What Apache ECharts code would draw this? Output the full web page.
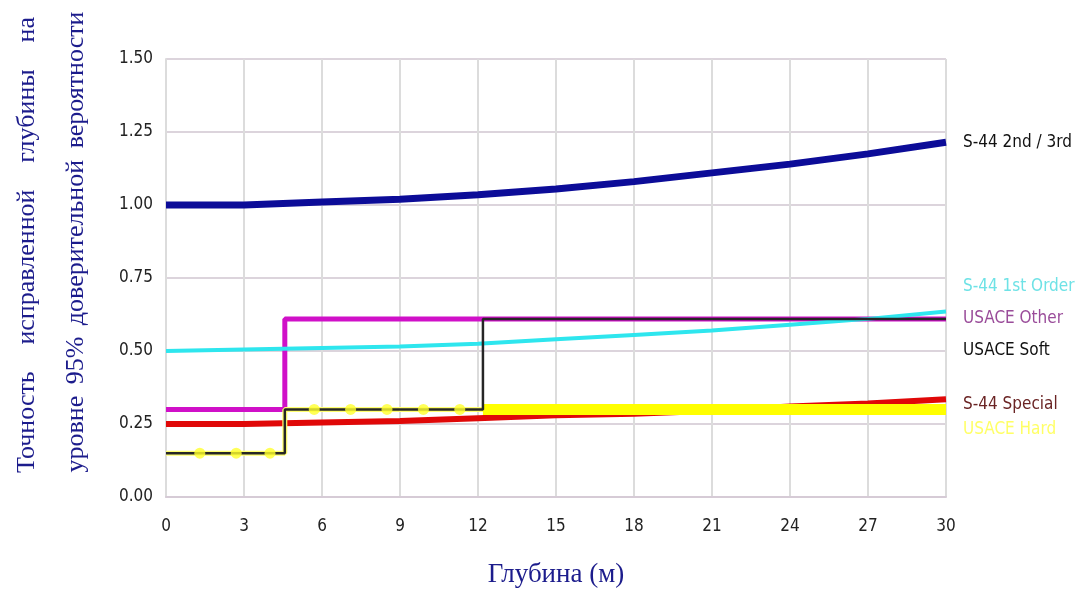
<!DOCTYPE html>
<html>
<head>
<meta charset="utf-8">
<script src="https://cdn.jsdelivr.net/npm/echarts@6/dist/echarts.min.js"></script>
<style>
  html, body { margin: 0; padding: 0; background: #fff; }
  #chart { width: 1081px; height: 596px; }
</style>
</head>
<body>
<div id="chart"></div>
<script>
// Depth samples (m) for the curved S-44 standards
const curveDepth = [0, 3, 6, 9, 12, 15, 18, 21, 24, 27, 30];
const s44Order2nd3rd = [1.00, 1.00, 1.01, 1.02, 1.035, 1.055, 1.08, 1.11, 1.14, 1.175, 1.215];
const s44Order1st    = [0.50, 0.505, 0.51, 0.515, 0.525, 0.54, 0.555, 0.57, 0.59, 0.61, 0.635];
const s44Special     = [0.25, 0.25, 0.255, 0.26, 0.27, 0.28, 0.285, 0.295, 0.31, 0.32, 0.335];

// USACE step standards (depth break points, m)
const otherDepth = [0, 4.57, 4.57, 30];
const otherValue = [0.30, 0.30, 0.61, 0.61];
const softDepth  = [0, 4.57, 4.57, 12.19, 12.19, 30];
const softValue  = [0.15, 0.15, 0.30, 0.30, 0.61, 0.61];
const hardDepth  = [0, 4.57, 4.57, 30];
const hardValue  = [0.15, 0.15, 0.30, 0.30];
const hardMarkerDepth = [1.3, 2.7, 4.0, 5.7, 7.1, 8.5, 9.9, 11.3];

const seriesNames = ['S-44 2nd / 3rd', 'S-44 1st Order', 'USACE Other', 'USACE Soft', 'S-44 Special', 'USACE Hard'];
const xTitle = 'Глубина (м)';
const yTitleLines = ['Точность исправленной глубины на', 'уровне 95% доверительной вероятности'];

const pairs = (xs, ys) => xs.map((x, i) => [x, ys[i]]);
// value of a step line at a given depth (last matching break point wins)
function stepAt(xs, ys, d) {
  let v = ys[0];
  for (let i = 0; i < xs.length; i++) if (xs[i] <= d) v = ys[i];
  return v;
}
const bandStart = softDepth[3];
const hardBand = [[bandStart, stepAt(hardDepth, hardValue, bandStart)]]
  .concat(pairs(hardDepth, hardValue).filter(p => p[0] > bandStart));
const hardMarkers = hardMarkerDepth.map(d => [d, stepAt(hardDepth, hardValue, d)]);

const tickFont = "'Liberation Sans Narrow', 'DejaVu Sans Condensed', sans-serif";
const titleFont = "'Liberation Serif', 'DejaVu Serif', serif";
const titleColor = '#1c1c8c';

function endLabel(text, color, dy) {
  return {
    show: true, formatter: text, color: color, fontFamily: tickFont,
    fontSize: 17, distance: 17, offset: [0, dy]
  };
}

const chart = echarts.init(document.getElementById('chart'));

// Justified rotated y-axis title, laid out word by word
function measure(text, font) {
  const ctx = document.createElement('canvas').getContext('2d');
  ctx.font = font;
  return ctx.measureText(text).width;
}
function justifiedLine(text, cx, cy, length, size) {
  const font = size + 'px ' + titleFont;
  const words = text.split(' ');
  const widths = words.map(w => measure(w, font));
  const total = widths.reduce((a, b) => a + b, 0);
  const gap = (length - total) / (words.length - 1);
  const els = [];
  let pos = cy + length / 2; // start from bottom, text reads upward
  words.forEach((w, i) => {
    els.push({
      type: 'text', x: cx, y: pos, rotation: Math.PI / 2,
      style: { text: w, font: font, fill: titleColor, textAlign: 'left', textVerticalAlign: 'middle' }
    });
    pos -= widths[i] + gap;
  });
  return els;
}

const option = {
  animation: false,
  backgroundColor: '#ffffff',
  grid: { left: 166, right: 135, top: 59, bottom: 99 },
  xAxis: {
    type: 'value', min: 0, max: 30, interval: 3,
    name: xTitle, nameLocation: 'middle', nameGap: 64,
    nameTextStyle: { fontFamily: titleFont, fontSize: 27, color: titleColor },
    axisLine: { show: true, lineStyle: { color: '#d6cbd6', width: 2 } },
    axisTick: { show: false },
    axisLabel: { margin: 21, fontFamily: tickFont, fontSize: 17, color: '#222' },
    splitLine: { show: true, lineStyle: { color: '#dcdcdc', width: 2 } }
  },
  yAxis: {
    type: 'value', min: 0, max: 1.5, interval: 0.25,
    axisLine: { show: true, lineStyle: { color: '#dcdcdc', width: 2 } },
    axisTick: { show: false },
    axisLabel: { margin: 13, fontFamily: tickFont, fontSize: 17, color: '#222',
      formatter: v => v.toFixed(2) },
    splitLine: { show: true, lineStyle: { color: '#dcd4dc', width: 2 } }
  },
  graphic: [].concat(
    justifiedLine(yTitleLines[0], 27, 245, 456, 26),
    justifiedLine(yTitleLines[1], 76, 242, 461, 26)
  ),
  series: [
    {
      name: seriesNames[0], type: 'line', data: pairs(curveDepth, s44Order2nd3rd),
      showSymbol: false, z: 2,
      lineStyle: { color: '#0c0c98', width: 7 },
      endLabel: endLabel(seriesNames[0], '#111', 0)
    },
    {
      name: seriesNames[2], type: 'line', data: pairs(otherDepth, otherValue),
      showSymbol: false, z: 2,
      lineStyle: { color: '#d010c8', width: 5 },
      endLabel: endLabel(seriesNames[2], '#9a4c9a', 0)
    },
    {
      name: seriesNames[1], type: 'line', data: pairs(curveDepth, s44Order1st),
      showSymbol: false, z: 3,
      lineStyle: { color: '#2ee6ee', width: 4 },
      endLabel: endLabel(seriesNames[1], '#6ee2e6', -25)
    },
    {
      name: seriesNames[4], type: 'line', data: pairs(curveDepth, s44Special),
      showSymbol: false, z: 3,
      lineStyle: { color: '#e00808', width: 6 },
      endLabel: endLabel(seriesNames[4], '#6a2424', 5)
    },
    {
      name: seriesNames[5] + ' line', type: 'line', data: pairs(hardDepth, hardValue),
      showSymbol: false, z: 4,
      lineStyle: { color: '#ffff70', width: 5 }
    },
    {
      name: seriesNames[5], type: 'line', data: hardBand,
      showSymbol: false, z: 4,
      lineStyle: { color: '#ffff00', width: 11 },
      endLabel: endLabel(seriesNames[5], '#ffff66', 20)
    },
    {
      name: seriesNames[3], type: 'line', data: pairs(softDepth, softValue),
      showSymbol: false, z: 5,
      lineStyle: { color: '#262626', width: 2.5 },
      endLabel: endLabel(seriesNames[3], '#111', 32)
    },
    {
      name: seriesNames[5] + ' markers', type: 'scatter', data: hardMarkers, z: 6,
      symbol: 'circle', symbolSize: 11,
      itemStyle: { color: '#ffff30' }
    }
  ]
};
chart.setOption(option);
</script>
</body>
</html>
